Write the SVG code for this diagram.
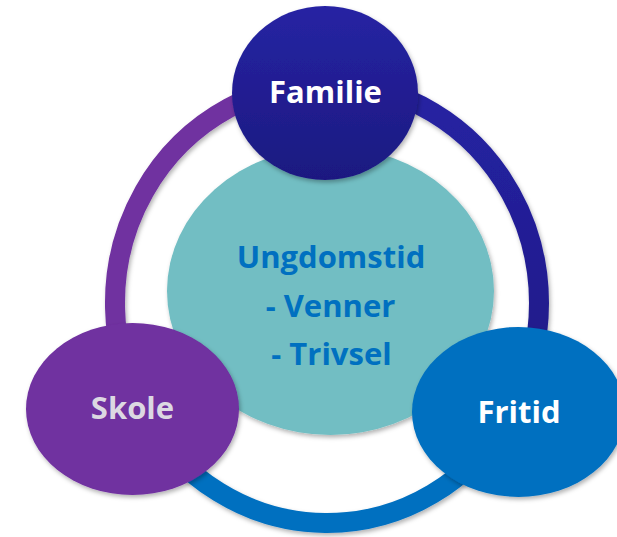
<svg xmlns="http://www.w3.org/2000/svg" width="617" height="537" viewBox="0 0 617 537">
  <defs>
    <filter id="shadow" x="-20%" y="-20%" width="140%" height="140%">
      <feDropShadow dx="1.5" dy="2.5" stdDeviation="2" flood-color="#000" flood-opacity="0.3"/>
    </filter>
    <linearGradient id="famGrad" x1="0" y1="0" x2="0" y2="1">
      <stop offset="0" stop-color="#2623A3"/>
      <stop offset="1" stop-color="#1C1980"/>
    </linearGradient>
    <linearGradient id="darkRing" x1="0" y1="0" x2="0" y2="1">
      <stop offset="0" stop-color="#2622A3"/>
      <stop offset="1" stop-color="#1E1A85"/>
    </linearGradient>
  </defs>
  <style>
    .ring { fill: none; stroke-width: 20; filter: url(#shadow); }
    .node { filter: url(#shadow); }
    .label { font-family: "Open Sans", "Noto Sans", "DejaVu Sans", sans-serif; font-weight: 700; font-size: 31px; text-anchor: middle; }
  </style>
  <rect width="617" height="537" fill="#FFFFFF"/>

  <g id="connectors">
    <path class="ring" stroke="#7030A0" d="M141.6,409.7 A212,220 0 0 1 327,83"/>
    <path class="ring" stroke="url(#darkRing)" d="M327,83 A212,220 0 0 1 510.6,413"/>
    <path class="ring" stroke="#0070C0" d="M510.6,413 A212,220 0 0 1 141.6,409.7"/>
  </g>

  <g id="ungdomstid">
    <ellipse class="node" cx="330.5" cy="291" rx="163.5" ry="144" fill="#72BEC3"/>
    <text class="label" x="331" y="268" fill="#0070C0">Ungdomstid</text>
    <text class="label" x="330.5" y="317" fill="#0070C0">- Venner</text>
    <text class="label" x="331.5" y="365" fill="#0070C0">- Trivsel</text>
  </g>

  <g id="familie">
    <ellipse class="node" cx="325" cy="93" rx="93" ry="87" fill="url(#famGrad)"/>
    <text class="label" x="325.5" y="103" fill="#FFFFFF">Familie</text>
  </g>

  <g id="skole">
    <ellipse class="node" cx="132.5" cy="409" rx="106.5" ry="86" fill="#7030A0"/>
    <text class="label" x="132.5" y="419" fill="#DCD8E2">Skole</text>
  </g>

  <g id="fritid">
    <ellipse class="node" cx="518.5" cy="412" rx="106.5" ry="85" fill="#0070C0"/>
    <text class="label" x="519" y="423" fill="#FFFFFF">Fritid</text>
  </g>
</svg>
